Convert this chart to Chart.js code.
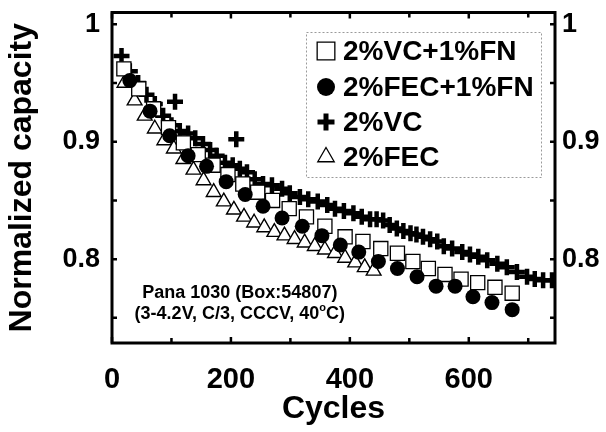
<!DOCTYPE html>
<html>
<head>
<meta charset="utf-8">
<script src="https://cdn.jsdelivr.net/npm/chart.js@4/dist/chart.umd.min.js"></script>
<style>
html,body{margin:0;padding:0;background:#fff;}
canvas{display:block;}
</style>
</head>
<body>
<canvas id="c" width="606" height="432"></canvas>
<script>
// ---- Data ----
const seriesLabels = ['2%VC+1%FN', '2%FEC+1%FN', '2%VC', '2%FEC'];

const sqX = [20, 45, 70, 95, 120, 145, 170, 195, 220, 245, 270, 298, 327, 358, 392, 422, 452, 480, 506, 532, 560, 587, 615, 644, 673];
const sqY = [0.962, 0.945, 0.928, 0.912, 0.899, 0.889, 0.880, 0.872, 0.864, 0.857, 0.850, 0.843, 0.836, 0.828, 0.819, 0.815, 0.809, 0.805, 0.798, 0.792, 0.787, 0.783, 0.780, 0.776, 0.771];

const ciX = [30, 64, 97, 128, 159, 192, 224, 254, 286, 320, 353, 384, 415, 448, 480, 513, 545, 577, 607, 639, 673];
const ciY = [0.952, 0.926, 0.905, 0.888, 0.879, 0.866, 0.855, 0.845, 0.835, 0.828, 0.820, 0.812, 0.806, 0.798, 0.792, 0.785, 0.777, 0.777, 0.768, 0.763, 0.757];

const plX = [16, 30, 44, 58, 72, 86, 100, 106, 114, 128, 140, 153, 165, 176, 190, 203, 209, 215, 227, 240, 254, 269, 286, 299, 316, 330, 346, 362, 375, 390, 406, 420, 434, 445, 456, 467, 479, 490, 502, 512, 523, 535, 547, 558, 572, 589, 602, 616, 631, 648, 664, 681, 698, 711, 725, 740];
const plY = [0.973, 0.960, 0.950, 0.940, 0.932, 0.922, 0.914, 0.934, 0.909, 0.907, 0.903, 0.898, 0.893, 0.888, 0.882, 0.880, 0.902, 0.877, 0.874, 0.868, 0.864, 0.863, 0.860, 0.856, 0.853, 0.851, 0.849, 0.846, 0.843, 0.841, 0.839, 0.836, 0.834, 0.834, 0.833, 0.829, 0.826, 0.824, 0.822, 0.821, 0.819, 0.817, 0.815, 0.811, 0.809, 0.806, 0.804, 0.802, 0.799, 0.796, 0.793, 0.789, 0.785, 0.783, 0.782, 0.782];

const trX = [21, 38, 55, 72, 88, 104, 120, 137, 154, 171, 188, 205, 222, 239, 256, 273, 290, 307, 324, 341, 358, 375, 392, 409, 425, 440];
const trY = [0.950, 0.935, 0.922, 0.911, 0.901, 0.894, 0.885, 0.876, 0.867, 0.857, 0.849, 0.842, 0.836, 0.831, 0.827, 0.823, 0.820, 0.817, 0.814, 0.811, 0.808, 0.805, 0.801, 0.797, 0.793, 0.790];

const xTickLabels = [0, 200, 400, 600];
const yTickLabels = [0.8, 0.9, 1];
const xMinorTicks = [0, 100, 200, 300, 400, 500, 600, 700];
const yMinorTicks = [0.75, 0.8, 0.85, 0.9, 0.95, 1.0];
const annotationLines = ['Pana 1030 (Box:54807)', '(3-4.2V, C/3, CCCV, 40', 'o', 'C)'];

const FONT = "'Liberation Sans', Arial, Helvetica, sans-serif";

function pts(xs, ys){ return xs.map((x,i)=>({x:x, y:ys[i]})); }

const datasets = [
  {label: seriesLabels[0], data: pts(sqX, sqY), pointStyle:'rect', pointRadius:10, pointBorderWidth:1.3,
   backgroundColor:'#fff', borderColor:'#000', order:1, legendRadius:12.5, legendBorder:1.3},
  {label: seriesLabels[1], data: pts(ciX, ciY), pointStyle:'circle', pointRadius:7.5, pointBorderWidth:0,
   backgroundColor:'#000', borderColor:'#000', order:0, legendRadius:9, legendBorder:0},
  {label: seriesLabels[2], data: pts(plX, plY), pointStyle:'cross', pointRadius:8, pointBorderWidth:4.5,
   backgroundColor:'#000', borderColor:'#000', order:2, legendRadius:8.5, legendBorder:5},
  {label: seriesLabels[3], data: pts(trX, trY), pointStyle:'triangle', pointRadius:8.5, pointBorderWidth:1.4,
   backgroundColor:'#fff', borderColor:'#000', order:3, legendRadius:9.5, legendBorder:1.3}
];
datasets.forEach(d => { d.showLine = false; d.pointHoverRadius = d.pointRadius; });

function near(v, t){ return Math.abs(v - t) < 1e-6; }
function yLabel(v){
  if (near(v,1)) return '1';
  if (near(v,0.9)) return '0.9';
  if (near(v,0.8)) return '0.8';
  return '';
}
function noPadV(s){ s.paddingTop = 0; s.paddingBottom = 0; }
function noPadH(s){ s.paddingLeft = 0; s.paddingRight = 0; }

const framePlugin = {
  id: 'frame',
  afterDraw(chart){
    const ctx = chart.ctx, a = chart.chartArea;
    const xs = chart.scales.x, ys = chart.scales.y;
    ctx.save();
    ctx.strokeStyle = '#000';
    ctx.lineWidth = 2.5;
    xMinorTicks.forEach(v => {
      const px = xs.getPixelForValue(v);
      const len = (v % 200 === 0) ? 6 : 5;
      ctx.beginPath();
      ctx.moveTo(px, a.bottom); ctx.lineTo(px, a.bottom - len);
      ctx.moveTo(px, a.top); ctx.lineTo(px, a.top + len);
      ctx.stroke();
    });
    yMinorTicks.forEach(v => {
      const py = ys.getPixelForValue(v);
      ctx.beginPath();
      ctx.moveTo(a.left, py); ctx.lineTo(a.left + 5, py);
      ctx.moveTo(a.right, py); ctx.lineTo(a.right - 5, py);
      ctx.stroke();
    });
    ctx.lineWidth = 3;
    ctx.strokeRect(a.left, a.top, a.right - a.left, a.bottom - a.top);

    // legend box
    const lx0 = 306, ly0 = 32, lx1 = 541, ly1 = 177;
    ctx.lineWidth = 1;
    ctx.strokeStyle = '#9a9a9a';
    ctx.setLineDash([2, 2]);
    ctx.strokeRect(lx0 + 0.5, ly0 + 0.5, lx1 - lx0, ly1 - ly0);
    ctx.setLineDash([]);
    const rows = [51, 87, 122, 157];
    datasets.forEach((d, i) => {
      ctx.fillStyle = d.backgroundColor;
      ctx.strokeStyle = d.borderColor;
      ctx.lineWidth = d.legendBorder;
      Chart.helpers.drawPoint(ctx, {pointStyle: d.pointStyle, radius: d.legendRadius, rotation: 0, borderWidth: d.legendBorder}, 326, rows[i]);
      ctx.fillStyle = '#000';
      ctx.font = 'bold 28px ' + FONT;
      ctx.textAlign = 'left';
      ctx.textBaseline = 'middle';
      ctx.fillText(d.label, 343, rows[i] + 1);
    });

    // annotation
    const cx = xs.getPixelForValue(215);
    const y1 = ys.getPixelForValue(0.7714);
    const y2 = ys.getPixelForValue(0.7529);
    ctx.fillStyle = '#000';
    ctx.textBaseline = 'middle';
    ctx.textAlign = 'center';
    ctx.font = 'bold 18px ' + FONT;
    ctx.fillText(annotationLines[0], cx, y1);
    const f1 = 'bold 18px ' + FONT, f2 = 'bold 11px ' + FONT;
    ctx.font = f1; const w1 = ctx.measureText(annotationLines[1]).width;
    ctx.font = f2; const w2 = ctx.measureText(annotationLines[2]).width;
    ctx.font = f1; const w3 = ctx.measureText(annotationLines[3]).width;
    let sx = cx - (w1 + w2 + w3) / 2;
    ctx.textAlign = 'left';
    ctx.font = f1; ctx.fillText(annotationLines[1], sx, y2); sx += w1;
    ctx.font = f2; ctx.fillText(annotationLines[2], sx, y2 - 6); sx += w2;
    ctx.font = f1; ctx.fillText(annotationLines[3], sx, y2);
    ctx.restore();
  }
};

new Chart(document.getElementById('c'), {
  type: 'scatter',
  data: { datasets: datasets },
  options: {
    responsive: false,
    animation: false,
    devicePixelRatio: 1,
    layout: { padding: { top: 8, right: 0, left: 0, bottom: 0 } },
    plugins: { legend: { display: false }, tooltip: { enabled: false } },
    scales: {
      x: {
        type: 'linear', position: 'bottom', min: 0, max: 745,
        grid: { display: false, drawTicks: false }, border: { display: false },
        afterBuildTicks: s => { s.ticks = xTickLabels.map(v => ({value: v})); },
        ticks: { color: '#000', padding: 20, maxRotation: 0, autoSkip: false,
                 font: { family: FONT, size: 29, weight: 'bold' },
                 callback: v => String(v) },
        title: { display: true, text: 'Cycles', color: '#000',
                 font: { family: FONT, size: 32, weight: 'bold' }, padding: { top: 0, bottom: 4 } },
        afterFit: s => { s.height = 89; noPadH(s); }
      },
      y: {
        type: 'linear', position: 'left', min: 0.7286, max: 1.01,
        grid: { display: false, drawTicks: false }, border: { display: false },
        afterBuildTicks: s => { s.ticks = yTickLabels.map(v => ({value: v})); },
        ticks: { color: '#000', padding: 12, autoSkip: false,
                 font: { family: FONT, size: 27, weight: 'bold' }, callback: v => yLabel(v) },
        title: { display: true, text: 'Normalized capacity', color: '#000',
                 font: { family: FONT, size: 32, weight: 'bold' }, padding: { top: 3, bottom: 0 } },
        afterFit: s => { s.width = 112; noPadV(s); }
      },
      y2: {
        type: 'linear', position: 'right', min: 0.7286, max: 1.01,
        grid: { display: false, drawTicks: false }, border: { display: false },
        afterBuildTicks: s => { s.ticks = yTickLabels.map(v => ({value: v})); },
        ticks: { color: '#000', padding: 7, autoSkip: false,
                 font: { family: FONT, size: 27, weight: 'bold' }, callback: v => yLabel(v) },
        afterFit: s => { s.width = 51; noPadV(s); }
      }
    }
  },
  plugins: [framePlugin]
});
</script>
</body>
</html>
